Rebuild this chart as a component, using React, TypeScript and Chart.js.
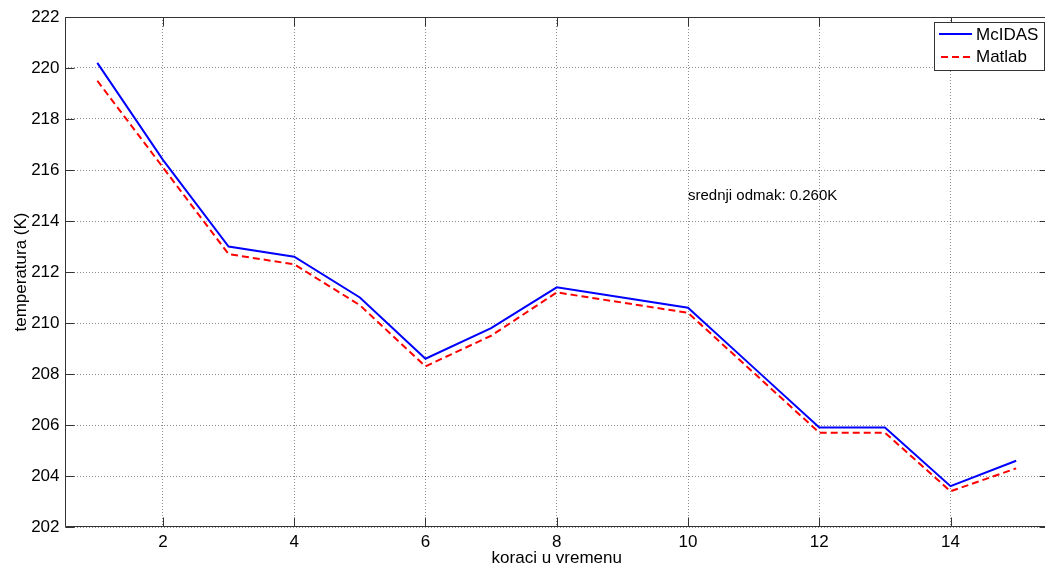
import { useEffect, useRef } from "react";
import { Chart, registerables } from "chart.js";

Chart.register(...registerables);

const steps = [1, 2, 3, 4, 5, 6, 7, 8, 9, 10, 11, 12, 13, 14, 15];
const mcidasValues = [220.2, 216.4, 213.0, 212.6, 211.0, 208.6, 209.8, 211.4, 211.0, 210.6, 208.25, 205.9, 205.9, 203.6, 204.6];
const matlabValues = [219.5, 216.1, 212.7, 212.3, 210.7, 208.3, 209.5, 211.2, 210.8, 210.4, 208.05, 205.7, 205.7, 203.4, 204.3];
const xTickValues = [2, 4, 6, 8, 10, 12, 14];
const seriesNames = ["McIDAS", "Matlab"];
const annotationText = "srednji odmak: 0.260K";
const annotationPos = { x: 10, y: 215 };

const FONT = "'Liberation Sans', Arial, sans-serif";
const CANVAS_W = 1050;
const CANVAS_H = 567;

const boxPlugin = {
  id: "matlabBox",
  afterDraw(chart: any) {
    const { ctx, chartArea, scales } = chart;
    const { left, right, top, bottom } = chartArea;
    const xs = scales.x;
    const ys = scales.y;
    ctx.save();
    // annotation text
    ctx.fillStyle = "#000";
    ctx.font = `15px ${FONT}`;
    ctx.textAlign = "left";
    ctx.textBaseline = "middle";
    ctx.fillText(annotationText, xs.getPixelForValue(annotationPos.x), ys.getPixelForValue(annotationPos.y));

    // box
    ctx.strokeStyle = "#333";
    ctx.lineWidth = 1;
    ctx.setLineDash([]);
    const L = Math.round(left) + 0.5;
    const R = Math.round(right) - 0.5;
    const T = Math.round(top) + 0.5;
    const B = Math.round(bottom) - 0.5;
    ctx.beginPath();
    ctx.moveTo(L, T);
    ctx.lineTo(R, T);
    ctx.lineTo(R, B);
    ctx.lineTo(L, B);
    ctx.closePath();
    ctx.stroke();
    // inward ticks
    const tl = 9;
    ctx.beginPath();
    xs.ticks.forEach((t: any) => {
      const px = Math.round(xs.getPixelForValue(t.value)) + 0.5;
      ctx.moveTo(px, B);
      ctx.lineTo(px, B - tl);
      ctx.moveTo(px, T);
      ctx.lineTo(px, T + tl);
    });
    ys.ticks.forEach((t: any) => {
      const py = Math.round(ys.getPixelForValue(t.value)) + 0.5;
      ctx.moveTo(L, py);
      ctx.lineTo(L + tl, py);
      ctx.moveTo(R, py);
      ctx.lineTo(R - tl, py);
    });
    ctx.stroke();

    // legend
    const bx = 934.5, by = 22.5, bw = 110, bh = 48;
    ctx.fillStyle = "#fff";
    ctx.fillRect(bx, by, bw, bh);
    ctx.strokeStyle = "#333";
    ctx.strokeRect(bx, by, bw, bh);
    ctx.lineWidth = 2;
    ctx.strokeStyle = "#0000ff";
    ctx.beginPath();
    ctx.moveTo(939, 34);
    ctx.lineTo(972, 34);
    ctx.stroke();
    ctx.strokeStyle = "#ff0000";
    ctx.setLineDash([7, 4]);
    ctx.beginPath();
    ctx.moveTo(941, 57);
    ctx.lineTo(972, 57);
    ctx.stroke();
    ctx.setLineDash([]);
    ctx.fillStyle = "#000";
    ctx.font = `17px ${FONT}`;
    ctx.textAlign = "left";
    ctx.textBaseline = "middle";
    ctx.fillText(seriesNames[0], 976, 35);
    ctx.fillText(seriesNames[1], 976, 57);
    ctx.restore();
  },
};

export default function App() {
  const ref = useRef<HTMLCanvasElement | null>(null);
  useEffect(() => {
    if (!ref.current) return;
    const chart = new Chart(ref.current, {
      type: "line",
      data: {
        datasets: [
          {
            label: seriesNames[0],
            data: steps.map((s, i) => ({ x: s, y: mcidasValues[i] })),
            borderColor: "#0000ff",
            borderWidth: 2,
            pointRadius: 0,
            tension: 0,
            fill: false,
          },
          {
            label: seriesNames[1],
            data: steps.map((s, i) => ({ x: s, y: matlabValues[i] })),
            borderColor: "#ff0000",
            borderWidth: 2,
            borderDash: [7, 4],
            pointRadius: 0,
            tension: 0,
            fill: false,
          },
        ],
      },
      options: {
        animation: false,
        responsive: false,
        devicePixelRatio: 1,
        layout: { padding: { top: 17, right: 1, left: 0, bottom: 0 } },
        plugins: { legend: { display: false }, tooltip: { enabled: false } },
        scales: {
          x: {
            type: "linear",
            min: 0.5,
            max: 15.5,
            afterBuildTicks: (scale: any) => {
              scale.ticks = xTickValues.map((v) => ({ value: v }));
            },
            afterFit: (scale: any) => {
              scale.height = 40;
            },
            grid: { color: "rgba(0,0,0,0.45)", lineWidth: 1, drawTicks: false },
            border: { display: false, dash: [1, 2] },
            ticks: {
              padding: 5,
              color: "#000",
              font: { family: FONT, size: 17 },
              maxRotation: 0,
              autoSkip: false,
            },
            title: {
              display: true,
              text: "koraci u vremenu",
              color: "#000",
              font: { family: FONT, size: 17 },
              padding: { top: 0, bottom: -2 },
            },
          },
          y: {
            min: 202,
            max: 222,
            afterFit: (scale: any) => {
              scale.width = 64.5;
            },
            grid: { color: "rgba(0,0,0,0.45)", lineWidth: 1, drawTicks: false },
            border: { display: false, dash: [1, 2] },
            ticks: {
              stepSize: 2,
              padding: 5,
              color: "#000",
              font: { family: FONT, size: 17 },
            },
            title: {
              display: true,
              text: "temperatura (K)",
              color: "#000",
              font: { family: FONT, size: 17 },
              padding: { top: 11, bottom: 0 },
            },
          },
        },
      },
      plugins: [boxPlugin],
    });
    return () => chart.destroy();
  }, []);
  return (
    <div style={{ position: "absolute", left: 0, top: 0, width: 1045, height: 567, overflow: "hidden", background: "#fff" }}>
      <canvas ref={ref} width={CANVAS_W} height={CANVAS_H} style={{ display: "block", width: CANVAS_W, height: CANVAS_H }} />
    </div>
  );
}
